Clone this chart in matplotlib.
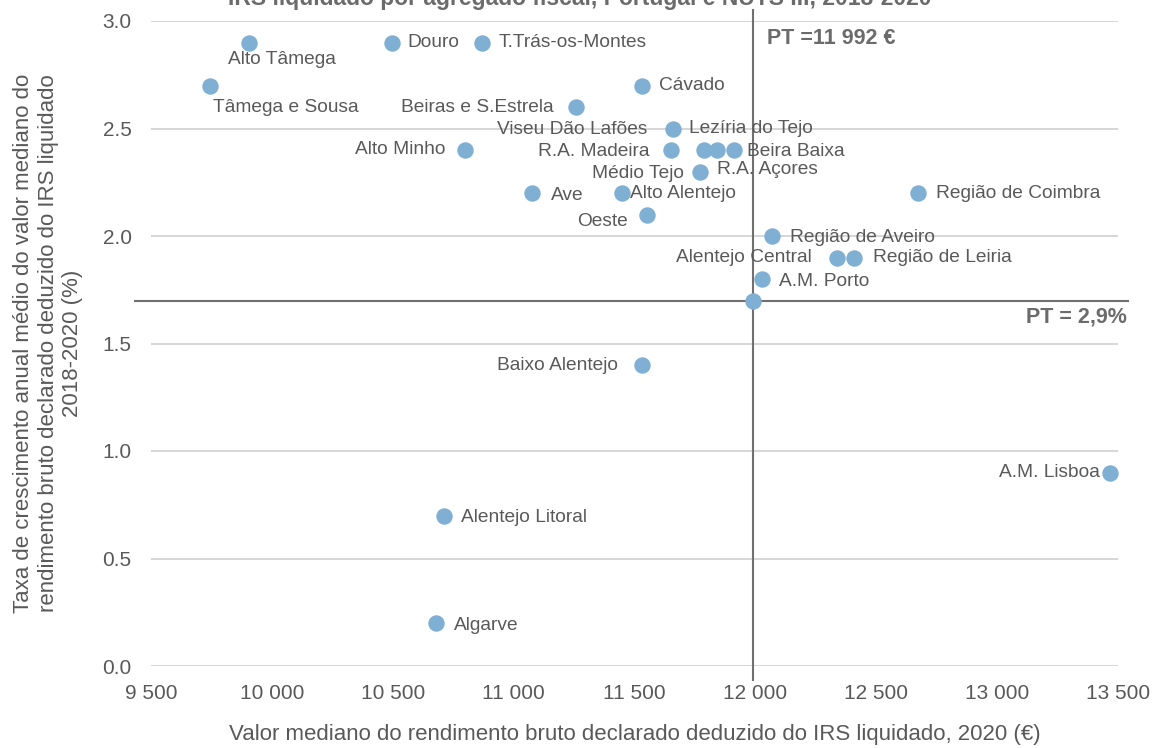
import matplotlib
matplotlib.use("Agg")
import matplotlib.pyplot as plt
from matplotlib.ticker import FuncFormatter, MultipleLocator

plt.rcParams['font.family'] = ['Liberation Sans', 'DejaVu Sans']

# ---- data ----
regions = ["Alto Tâmega", "Tâmega e Sousa", "Douro", "T.Trás-os-Montes", "Cávado",
           "Beiras e S.Estrela", "Lezíria do Tejo", "Viseu Dão Lafões", "Alto Minho",
           "R.A. Madeira", "R.A. Açores", "Beira Baixa", "Médio Tejo", "Ave",
           "Alto Alentejo", "Oeste", "Região de Coimbra", "Região de Aveiro",
           "Alentejo Central", "Região de Leiria", "A.M. Porto", "Baixo Alentejo",
           "A.M. Lisboa", "Alentejo Litoral", "Algarve", "PT"]
income = [9906, 9744, 10498, 10871, 11533,
          11256, 11661, 11786, 10800,
          11653, 11843, 11910, 11770, 11078,
          11450, 11550, 12672, 12067,
          12336, 12407, 12026, 11533,
          13467, 10713, 10680, 11992]
growth = [2.9, 2.7, 2.9, 2.9, 2.7,
          2.6, 2.5, 2.4, 2.4,
          2.4, 2.4, 2.4, 2.3, 2.2,
          2.2, 2.1, 2.2, 2.0,
          1.9, 1.9, 1.8, 1.4,
          0.9, 0.7, 0.2, 1.7]
pt_income = 11992
pt_growth_line = 1.7
pt_income_label = "PT =11 992 €"
pt_growth_label = "PT = 2,9%"
x_ticks = [9500, 10000, 10500, 11000, 11500, 12000, 12500, 13000, 13500]

# label placement: (dx px, dy px, ha)
label_pos = {
    "Alto Tâmega": (33, -17, "center"),
    "Tâmega e Sousa": (76, -22, "center"),
    "Douro": (15, 0, "left"),
    "T.Trás-os-Montes": (16, 0, "left"),
    "Cávado": (17, 0, "left"),
    "Beiras e S.Estrela": (-22, 0, "right"),
    "Lezíria do Tejo": (16, 0, "left"),
    "Viseu Dão Lafões": (-56, 21, "right"),
    "Alto Minho": (-20, 1, "right"),
    "R.A. Madeira": (-22, -1, "right"),
    "R.A. Açores": (0, -19, "left"),
    "Beira Baixa": (13, -1, "left"),
    "Médio Tejo": (-16, -2, "right"),
    "Ave": (18, -2, "left"),
    "Alto Alentejo": (8, 0, "left"),
    "Oeste": (-19, -7, "right"),
    "Região de Coimbra": (18, -1, "left"),
    "Região de Aveiro": (18, -2, "left"),
    "Alentejo Central": (-25, 0, "right"),
    "Região de Leiria": (19, 0, "left"),
    "A.M. Porto": (17, -2, "left"),
    "Baixo Alentejo": (-24, 0, "right"),
    "A.M. Lisboa": (-10, 0, "right"),
    "Alentejo Litoral": (17, -2, "left"),
    "Algarve": (18, -2, "left"),
}

gray_txt = "#595959"

fig = plt.figure(figsize=(11.53, 7.48), dpi=100)
ax = fig.add_axes([151/1153, 1 - 666/748, (1118-151)/1153, (666-21)/748])

ax.scatter(income, growth, s=140, color="#7FB0D3", zorder=3, linewidths=0)

ax.set_xlim(9500, 13500)
ax.set_ylim(0, 3.0)
ax.set_xticks(x_ticks)
ax.xaxis.set_major_formatter(FuncFormatter(lambda v, p: f"{int(v):,}".replace(",", " ")))
ax.yaxis.set_major_locator(MultipleLocator(0.5))
ax.yaxis.set_major_formatter(FuncFormatter(lambda v, p: f"{v:.1f}"))
ax.grid(axis="y", color="#D0D0D0", linewidth=1.2, zorder=0)
ax.set_axisbelow(True)
for s in ax.spines.values():
    s.set_visible(False)
ax.tick_params(axis="both", length=0, labelsize=15, colors=gray_txt)
ax.tick_params(axis="y", pad=14)
ax.tick_params(axis="x", pad=13)

# PT reference lines
ax.axvline(pt_income, ymin=-0.022, ymax=1.017, color="#707070", linewidth=1.5, clip_on=False, zorder=2)
ax.axhline(pt_growth_line, xmin=-0.017, xmax=1.01, color="#707070", linewidth=1.5, clip_on=False, zorder=2)

for name, xv, yv in zip(regions, income, growth):
    if name not in label_pos:
        continue
    dx, dy, ha = label_pos[name]
    ax.annotate(name, (xv, yv), xytext=(dx, dy), textcoords="offset pixels",
                ha=ha, va="center", fontsize=13.8, color=gray_txt, zorder=4,
                annotation_clip=False)

ax.annotate(pt_income_label, (pt_income, 3.0), xytext=(14, -18), textcoords="offset pixels",
            ha="left", va="center", fontsize=15.5, fontweight="bold", color="#6B6B6B")
ax.text(1.0093, pt_growth_line - 0.03, pt_growth_label, transform=ax.get_yaxis_transform(),
        ha="right", va="top", fontsize=15.5, fontweight="bold", color="#6B6B6B")

ax.set_xlabel("Valor mediano do rendimento bruto declarado deduzido do IRS liquidado, 2020 (€)",
              fontsize=16, color=gray_txt, labelpad=15)
ax.set_ylabel("Taxa de crescimento anual médio do valor mediano do\n"
              "rendimento bruto declarado deduzido do IRS liquidado\n2018-2020 (%)",
              fontsize=16, color=gray_txt, labelpad=14, linespacing=1.2)

fig.text(580/1153, 1 - 5/748, "IRS liquidado por agregado fiscal, Portugal e NUTS III, 2018-2020",
         ha="center", va="baseline", fontsize=16.5, fontweight="bold", color="#6B6B6B")

fig.savefig("out.png", dpi=100)
